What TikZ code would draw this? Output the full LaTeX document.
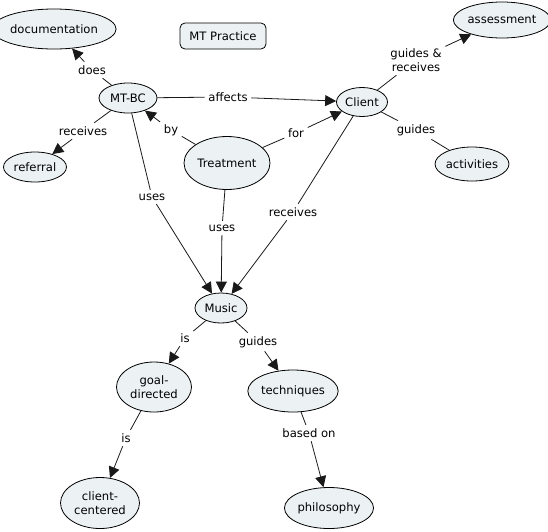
\documentclass[tikz,border=0pt]{standalone}
\usepackage{fontspec}
\setmainfont{DejaVu Sans}
\usetikzlibrary{arrows.meta,shapes.geometric,positioning}
\definecolor{cmapFill}{RGB}{236,242,244}
\definecolor{cmapLine}{RGB}{25,25,25}

\begin{document}
\begin{tikzpicture}[x=1pt,y=-1pt,
    concept/.style={ellipse,draw=black,fill=cmapFill,line width=0.8pt,inner sep=0pt,
                    font=\fontsize{11.6}{14}\selectfont,align=center},
    linkword/.style={inner sep=3.5pt,font=\fontsize{11.6}{14}\selectfont,align=center},
    lnk/.style={draw=cmapLine,line width=0.8pt},
    arr/.style={lnk,-{Triangle[length=11pt,width=11pt]}}]

    \useasboundingbox (0,0) rectangle (548,531);

    % ─── Titulo ───────────────────────────────────────────
    \node[draw=black,fill=cmapFill,line width=0.8pt,rounded corners=5pt,
          minimum width=86pt,minimum height=26pt,
          font=\fontsize{11.6}{14}\selectfont] (title) at (223,36) {MT Practice};

    % ─── Conceitos ────────────────────────────────────────
    \node[concept,minimum width=108pt,minimum height=40pt] (doc)   at (54,29)   {documentation};
    \node[concept,minimum width=58pt, minimum height=30pt] (mtbc)  at (128,98)  {MT-BC};
    \node[concept,minimum width=63pt, minimum height=30pt] (ref)   at (35,167)  {referral};
    \node[concept,minimum width=86pt, minimum height=53pt] (treat) at (227,163) {Treatment};
    \node[concept,minimum width=88pt, minimum height=36pt] (assess) at (502,20) {assessment};
    \node[concept,minimum width=51pt, minimum height=29pt] (client) at (362,102) {Client};
    \node[concept,minimum width=62pt, minimum height=34pt] (activ) at (472,164) {activities};
    \node[concept,minimum width=52pt, minimum height=30pt] (music) at (221,308) {Music};
    \node[concept,minimum width=75pt, minimum height=50pt] (goal)  at (154,387) {goal-\\directed};
    \node[concept,minimum width=84pt, minimum height=42pt] (tech)  at (293,391) {techniques};
    \node[concept,minimum width=79pt, minimum height=51pt] (cent)  at (100,503) {client-\\centered};
    \node[concept,minimum width=84pt, minimum height=41pt] (phil)  at (329,508) {philosophy};

    % ─── Palavras de ligacao ──────────────────────────────
    \node[linkword] (lDoes)    at (92,70)   {does};
    \node[linkword] (lAffects) at (228,97)  {affects};
    \node[linkword] (lRecRef)  at (83,131)  {receives};
    \node[linkword] (lBy)      at (171,130) {by};
    \node[linkword] (lFor)     at (296,133) {for};
    \node[linkword] (lGuRec)   at (416,60)  {guides \&\\receives};
    \node[linkword] (lGuides)  at (416,130) {guides};
    \node[linkword] (lUses1)   at (152,197) {uses};
    \node[linkword] (lUses2)   at (222,228) {uses};
    \node[linkword] (lRecMus)  at (293,212) {receives};
    \node[linkword] (lIs1)     at (185,338) {is};
    \node[linkword] (lGuTech)  at (258,342) {guides};
    \node[linkword] (lIs2)     at (126,438) {is};
    \node[linkword] (lBased)   at (309,433) {based on};

    % ─── Ligacoes ─────────────────────────────────────────
    \draw[lnk] (mtbc) -- (lDoes);     \draw[arr] (lDoes) -- (doc);
    \draw[lnk] (mtbc) -- (lAffects);  \draw[arr] (lAffects) -- (client);
    \draw[lnk] (mtbc) -- (lRecRef);   \draw[arr] (lRecRef) -- (ref);
    \draw[lnk] (treat) -- (lBy);      \draw[arr] (lBy) -- (mtbc);
    \draw[lnk] (treat) -- (lFor);     \draw[arr] (lFor) -- (client);
    \draw[lnk] (client) -- (lGuRec);  \draw[arr] (lGuRec) -- (assess);
    \draw[lnk] (client) -- (lGuides); \draw[lnk] (lGuides) -- (activ);
    \draw[lnk] (mtbc) -- (lUses1);    \draw[arr] (lUses1) -- (music);
    \draw[lnk] (treat) -- (lUses2);   \draw[arr] (lUses2) -- (music);
    \draw[lnk] (client) -- (lRecMus); \draw[arr] (lRecMus) -- (music);
    \draw[lnk] (music) -- (lIs1);     \draw[arr] (lIs1) -- (goal);
    \draw[lnk] (music) -- (lGuTech);  \draw[arr] (lGuTech) -- (tech);
    \draw[lnk] (goal) -- (lIs2);      \draw[arr] (lIs2) -- (cent);
    \draw[lnk] (tech) -- (lBased);    \draw[arr] (lBased) -- (phil);

\end{tikzpicture}
\end{document}
